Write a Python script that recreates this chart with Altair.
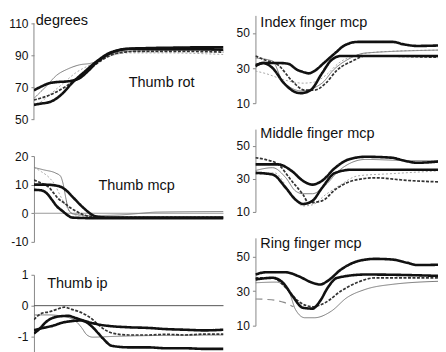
import altair as alt
import pandas as pd

FONT = "Liberation Sans, Arial, sans-serif"

STYLE = {
    "A": {"color": "#111111", "strokeWidth": 2.6, "strokeDash": [1, 0]},
    "B": {"color": "#111111", "strokeWidth": 2.6, "strokeDash": [1, 0]},
    "C": {"color": "#333333", "strokeWidth": 1.7, "strokeDash": [3, 1.5]},
    "D": {"color": "#7a7a7a", "strokeWidth": 1.0, "strokeDash": [1, 0]},
    "E": {"color": "#a8a8a8", "strokeWidth": 1.0, "strokeDash": [2, 2]},
    "F": {"color": "#8a8a8a", "strokeWidth": 1.2, "strokeDash": [7, 5]},
}

# ---- Thumb rot (degrees) ----
ROT_A_X = [0, 4, 8, 13, 18, 24, 28, 33, 37, 40, 44, 48, 60, 75, 90, 100]
ROT_A_Y = [68, 70.5, 72.5, 73.3, 73.7, 75.6, 79.5, 85.5, 89, 91.2, 93, 94, 94.5, 94.8, 95, 95]
ROT_B_X = [0, 4, 8, 12, 15, 20, 27, 34, 41, 52, 65, 80, 100]
ROT_B_Y = [59, 59.8, 60.6, 63, 66, 72.5, 80, 87, 92, 94, 94, 94, 93.5]
ROT_C_X = [0, 8, 17, 25, 30, 34, 43, 55, 75, 100]
ROT_C_Y = [62, 65, 70.6, 77.5, 82, 85.5, 91, 92.5, 92.5, 92]
ROT_D_X = [0, 6, 12, 18, 24, 30, 35, 39, 50, 75, 100]
ROT_D_Y = [63, 70, 77.5, 81.5, 84, 85, 87, 90, 92.5, 93, 93]
ROT_E_X = [0, 5, 10, 16, 22, 28, 34, 40, 50, 70, 100]
ROT_E_Y = [58, 62, 67, 73, 79, 83, 86, 89.5, 91.5, 91.5, 90.5]

# ---- Thumb mcp ----
MCP_A_X = [0, 6, 13, 17, 20, 25, 28, 30.5, 34, 40, 70, 100]
MCP_A_Y = [10, 10, 9.5, 8, 6, 2.6, 0.8, -0.5, -1.3, -1.5, -1.5, -1.5]
MCP_B_X = [0, 4, 7, 9.5, 12, 15, 18, 20, 30, 60, 100]
MCP_B_Y = [8.2, 8, 6.8, 4.7, 2.5, 0.8, -0.8, -1.5, -1.7, -1.7, -1.7]
MCP_C_X = [0, 4, 8, 10.5, 13, 16, 19, 22, 26, 30, 40, 100]
MCP_C_Y = [11.6, 10.5, 9, 7, 5, 3.6, 2, 0.8, -0.5, -1.2, -1.5, -1.5]
MCP_D_X = [0, 5, 11.6, 14, 15.5, 17, 18.4, 21, 30, 45, 55, 65, 100]
MCP_D_Y = [16, 15.2, 14, 13, 10, 4.7, 1, -0.3, -0.8, -0.6, -0.1, 0.4, 0.6]
MCP_E_X = [0, 4, 8, 11, 14, 17, 20, 25, 40, 100]
MCP_E_Y = [16, 14.5, 12.5, 10, 6, 2.5, 0, -1, -1.2, -1.2]

# ---- Thumb ip ----
IP_A_X = [0, 3, 6, 9, 13, 18, 22, 26, 30, 35, 40, 50, 60, 70, 80, 90, 100]
IP_A_Y = [-0.9, -0.75, -0.55, -0.42, -0.35, -0.33, -0.4, -0.48, -0.55, -0.62, -0.66, -0.7, -0.72, -0.76, -0.78, -0.8, -0.78]
IP_B_X = [0, 5, 10, 15, 20, 25, 28, 31, 34, 37, 41, 50, 60, 70, 80, 90, 100]
IP_B_Y = [-0.8, -0.72, -0.65, -0.55, -0.5, -0.48, -0.55, -0.7, -0.9, -1.1, -1.3, -1.35, -1.35, -1.38, -1.38, -1.4, -1.4]
IP_C_X = [0, 4, 8, 12, 16, 20, 24, 28, 31, 34, 38, 42, 50, 60, 70, 80, 90, 100]
IP_C_Y = [-0.45, -0.25, -0.2, -0.12, -0.05, -0.12, -0.2, -0.32, -0.45, -0.62, -0.8, -0.9, -0.95, -0.95, -0.93, -0.95, -0.92, -0.92]
IP_D_X = [0, 8, 14, 18, 22, 25, 28, 31, 40, 60, 100]
IP_D_Y = [-0.3, -0.3, -0.33, -0.38, -0.5, -0.7, -0.95, -1.02, -1.0, -0.97, -0.95]

# ---- Index finger mcp ----
IDX_A_X = [0, 5, 12, 17, 22, 26, 28, 31, 36, 42, 47, 54, 72, 78, 85, 100]
IDX_A_Y = [31.7, 32.9, 32.9, 32.5, 29, 27.5, 27, 28.3, 32.9, 38.6, 43, 44.9, 44.9, 43.5, 42.6, 43]
IDX_B_X = [0, 4, 9, 15, 21, 24, 29, 35, 40, 45, 63, 100]
IDX_B_Y = [31, 32.9, 30, 21.4, 16.3, 15.7, 17.4, 27, 34.6, 36.9, 36.9, 36.9]
IDX_C_X = [0, 5, 12, 19, 26, 31, 37, 43, 51, 58, 100]
IDX_C_Y = [36.9, 34.6, 31.7, 23, 17.4, 17.4, 21.4, 28.9, 34, 36.9, 36]
IDX_D_X = [0, 9, 14, 19, 24, 35, 41, 50, 58, 100]
IDX_D_Y = [35.7, 34, 23, 18.6, 17, 21.4, 28.9, 35.7, 38.6, 40.3]
IDX_E_X = [0, 5, 16, 25, 31, 37, 44, 54, 70, 100]
IDX_E_Y = [28.3, 27, 23, 21.4, 22, 25.9, 33, 37.6, 39.5, 40.3]

# ---- Middle finger mcp ----
MID_A_X = [0, 12, 19, 25, 30, 35, 42, 49, 58, 72, 78, 85, 100]
MID_A_Y = [38.7, 38.7, 34.8, 28.8, 26.5, 28.8, 36.7, 41.7, 43.3, 42.7, 41, 39.7, 40.9]
MID_B_X = [0, 9, 16, 21, 25, 30, 35, 42, 51, 100]
MID_B_Y = [33.6, 32.6, 24.5, 17.5, 14.8, 16.7, 24.5, 33.6, 35.5, 35.5]
MID_C_X = [0, 5, 12, 19, 25, 28, 35, 42, 51, 63, 80, 100]
MID_C_Y = [42.7, 41.7, 38.7, 28.8, 20.5, 15.5, 16.7, 23.5, 28.8, 30.6, 29, 28]
MID_D_X = [0, 9, 16, 21, 25, 30, 37, 44, 58, 80, 100]
MID_D_Y = [35, 36.7, 30.6, 22.7, 21, 21, 26.4, 35, 41.7, 41, 40.9]
MID_E_X = [0, 10, 19, 25, 30, 37, 44, 54, 70, 100]
MID_E_Y = [32.6, 33.6, 20.5, 13.6, 14.3, 20.5, 25.8, 31.8, 33, 35]

# ---- Ring finger mcp ----
RNG_A_X = [0, 5.5, 16, 22.5, 30, 34, 38, 45, 54, 63, 72, 80, 85, 100]
RNG_A_Y = [39.7, 41, 41, 38.8, 34.9, 33.9, 36, 42.6, 47.5, 48.8, 48.4, 46.5, 45.2, 45.5]
RNG_B_X = [0, 9, 14.5, 19.5, 25, 30, 34, 38, 43, 58, 100]
RNG_B_Y = [36.8, 37.8, 34.9, 27.2, 20.4, 19.9, 24.3, 32, 37.8, 39.7, 38.8]
RNG_C_X = [0, 9, 16, 22.5, 30, 36.6, 45, 54, 63, 100]
RNG_C_Y = [37.8, 37.8, 32, 24.3, 21, 23.3, 30.1, 35.3, 37.8, 37.8]
RNG_D_X = [0, 11, 17.5, 21, 26, 31, 40, 48, 57.6, 72, 100]
RNG_D_Y = [34.9, 35.3, 30.1, 19.5, 14.6, 14.6, 18.5, 26.2, 31, 34, 35.9]
RNG_F_X = [0, 5, 10, 15, 20]
RNG_F_Y = [25.5, 25.3, 24.8, 23.5, 21]

ROT_TEXT = [("degrees", 1, 108.75), ("Thumb rot", 50, 70)]
MCP_TEXT = [("Thumb mcp", 34, 8.3)]
IP_TEXT = [("Thumb ip", 7, 0.58)]
IDX_TEXT = [("Index finger mcp", 2.6, 53.2)]
MID_TEXT = [("Middle finger mcp", 2.6, 54.6)]
RNG_TEXT = [("Ring finger mcp", 2.6, 55.2)]


def panel(series, texts, xdom, ydom, w, h, ticks, zero=None, axis_span=None):
    xs = alt.Scale(domain=xdom, nice=False, zero=False)
    ys = alt.Scale(domain=ydom, nice=False, zero=False)
    yaxis = alt.Axis(values=ticks, title=None, domain=axis_span is None,
                     labelExpr="'' + datum.value")
    layers = []
    if zero is not None:
        z = alt.Chart(pd.DataFrame({"y": [0]})).mark_rule(color=zero[0], strokeWidth=zero[1]).encode(
            y=alt.Y("y:Q", scale=ys, axis=yaxis))
        layers.append(z)
    if axis_span is not None:
        a = alt.Chart(pd.DataFrame({"x": [xdom[0]], "y": [axis_span[0]], "y2": [axis_span[1]]})).mark_rule(
            color="#888", strokeWidth=1).encode(
            x=alt.X("x:Q", scale=xs, axis=None), y=alt.Y("y:Q", scale=ys, axis=yaxis), y2="y2:Q")
        layers.append(a)
    for name, xv, yv in series:
        df = pd.DataFrame({"x": xv, "y": yv})
        st = STYLE[name]
        layers.append(
            alt.Chart(df).mark_line(interpolate="monotone", clip=True, color=st["color"],
                                    strokeWidth=st["strokeWidth"], strokeDash=st["strokeDash"]).encode(
                x=alt.X("x:Q", scale=xs, axis=None),
                y=alt.Y("y:Q", scale=ys, axis=yaxis),
            )
        )
    tdf = pd.DataFrame([{"t": t, "x": x, "y": y} for t, x, y in texts])
    layers.append(
        alt.Chart(tdf).mark_text(align="left", baseline="alphabetic", font=FONT,
                                 fontSize=14.5, color="#111").encode(
            x=alt.X("x:Q", scale=xs, axis=None), y=alt.Y("y:Q", scale=ys, axis=yaxis), text="t:N")
    )
    return alt.layer(*layers).properties(width=w, height=h)


p1 = panel([("E", ROT_E_X, ROT_E_Y), ("D", ROT_D_X, ROT_D_Y), ("C", ROT_C_X, ROT_C_Y),
            ("B", ROT_B_X, ROT_B_Y), ("A", ROT_A_X, ROT_A_Y)], ROT_TEXT,
           [0, 100], [47.5, 115], 190, 108, [50, 70, 90, 110], axis_span=(50, 110))
p2 = panel([("E", MCP_E_X, MCP_E_Y), ("D", MCP_D_X, MCP_D_Y), ("C", MCP_C_X, MCP_C_Y),
            ("B", MCP_B_X, MCP_B_Y), ("A", MCP_A_X, MCP_A_Y)], MCP_TEXT,
           [0, 100], [-10, 20], 190, 86, [-10, 0, 10, 20], zero=("#9a9a9a", 1))
p3 = panel([("D", IP_D_X, IP_D_Y), ("C", IP_C_X, IP_C_Y),
            ("B", IP_B_X, IP_B_Y), ("A", IP_A_X, IP_A_Y)], IP_TEXT,
           [0, 100], [-1.52, 1], 190, 78, [-1, 0, 1], zero=("#555555", 1))
p4 = panel([("E", IDX_E_X, IDX_E_Y), ("D", IDX_D_X, IDX_D_Y), ("C", IDX_C_X, IDX_C_Y),
            ("B", IDX_B_X, IDX_B_Y), ("A", IDX_A_X, IDX_A_Y)], IDX_TEXT,
           [0, 96], [10, 60], 183, 88, [10, 30, 50])
p5 = panel([("E", MID_E_X, MID_E_Y), ("D", MID_D_X, MID_D_Y), ("C", MID_C_X, MID_C_Y),
            ("B", MID_B_X, MID_B_Y), ("A", MID_A_X, MID_A_Y)], MID_TEXT,
           [0, 96], [10, 60], 183, 83, [10, 30, 50])
p6 = panel([("F", RNG_F_X, RNG_F_Y), ("D", RNG_D_X, RNG_D_Y), ("C", RNG_C_X, RNG_C_Y),
            ("B", RNG_B_X, RNG_B_Y), ("A", RNG_A_X, RNG_A_Y)], RNG_TEXT,
           [0, 96], [10, 61], 183, 88, [10, 30, 50])

left = alt.vconcat(p1, p2, p3, spacing=33, bounds="flush")
right = alt.vconcat(p4, p5, p6, spacing=26, bounds="flush")

chart = alt.hconcat(left, right, spacing=11).properties(
    padding={"left": 0, "top": 4, "right": 0, "bottom": 0},
    background="white",
).configure_view(stroke=None).configure_axis(
    grid=False, domainColor="#888", tickColor="#888", tickSize=3, labelPadding=3,
    labelFont=FONT, labelFontSize=12, labelColor="#111",
)

chart.save("out.html", embed_options={"renderer": "svg", "actions": False})
